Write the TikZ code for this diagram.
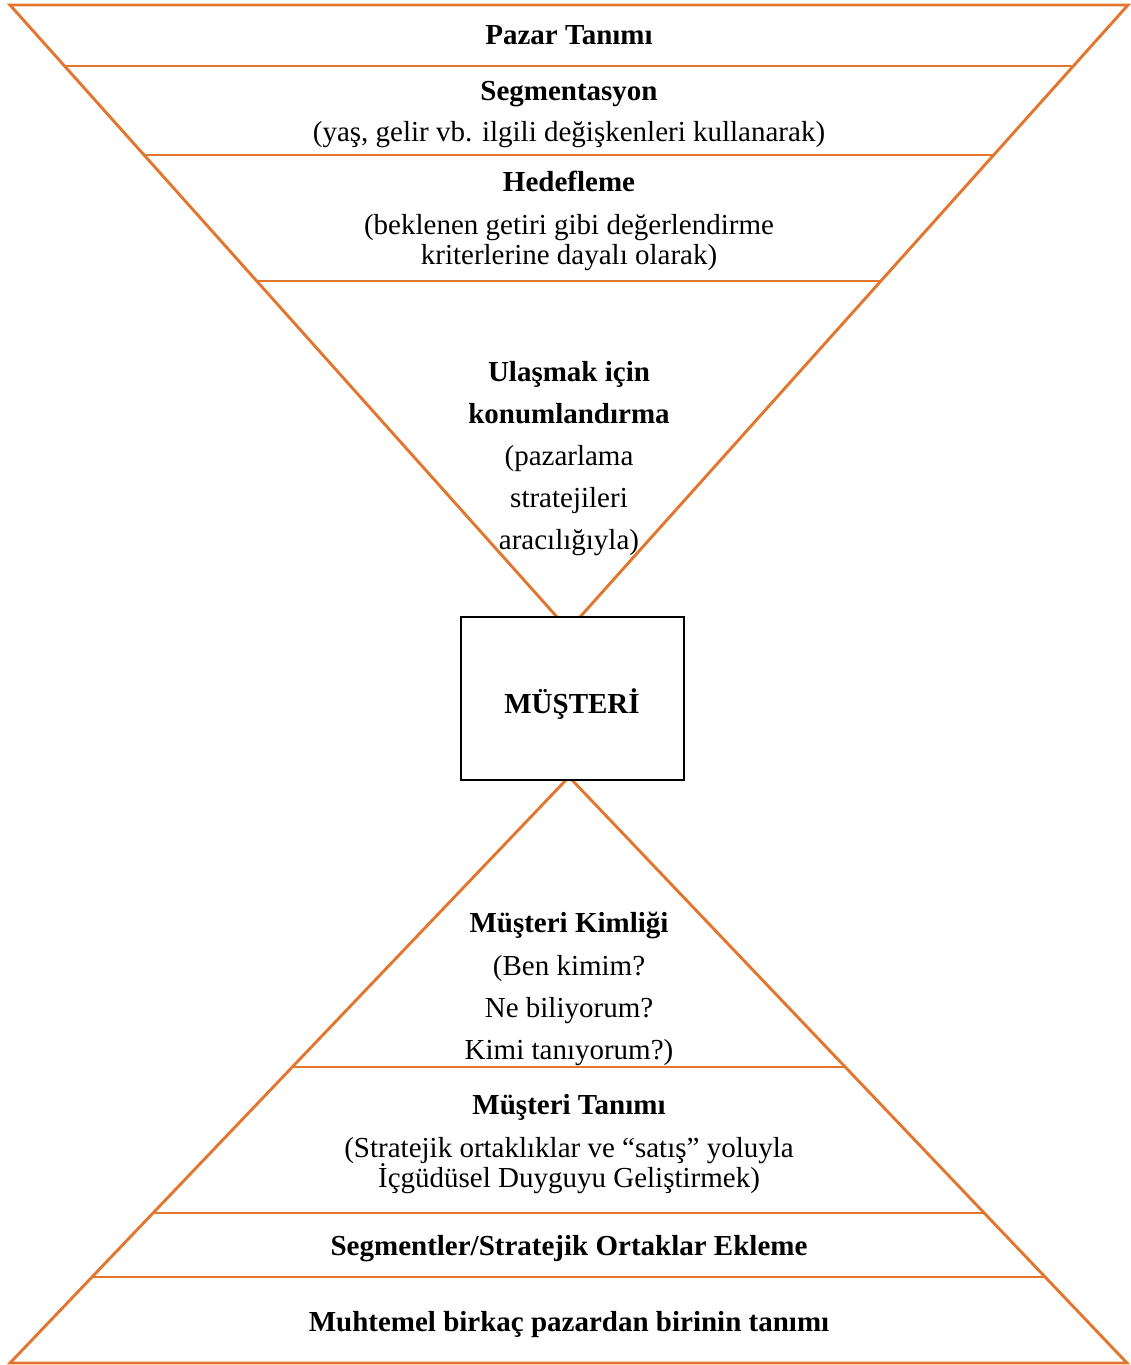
\documentclass[tikz,border=0pt]{standalone}
\usepackage{fontspec}
\setmainfont{Liberation Serif}
\usetikzlibrary{calc}
\definecolor{orng}{RGB}{226,118,46}
\begin{document}
\begin{tikzpicture}[x=1pt,y=-1pt,
  oline/.style={draw=orng,line width=2.9pt},
  lbl/.style={anchor=base,inner sep=0pt,font=\fontsize{29}{31}\selectfont},
  blbl/.style={lbl,font=\fontsize{29}{31}\selectfont\bfseries}]
\useasboundingbox (0,0) rectangle (1131,1365);
% top funnel corners
\coordinate (TL) at (10,5);
\coordinate (TR) at (1128,5);
\coordinate (TLa) at (557,617);
\coordinate (TRa) at (580,617);
% bottom funnel corners
\coordinate (BLa) at (566,780);
\coordinate (BRa) at (572,780);
\coordinate (BL) at (10,1363);
\coordinate (BR) at (1127,1363);
% top funnel
\draw[oline,line join=miter] (TLa) -- (TL) -- (TR) -- (TRa);
\draw[oline] ($(TL)!0.0997!(TLa)$) -- ($(TR)!0.0997!(TRa)$);
\draw[oline] ($(TL)!0.2451!(TLa)$) -- ($(TR)!0.2451!(TRa)$);
\draw[oline] ($(TL)!0.4510!(TLa)$) -- ($(TR)!0.4510!(TRa)$);
% bottom pyramid
\draw[oline,line join=miter] (BLa) -- (BL) -- (BR) -- (BRa);
\draw[oline] ($(BLa)!0.4923!(BL)$) -- ($(BRa)!0.4923!(BR)$);
\draw[oline] ($(BLa)!0.7427!(BL)$) -- ($(BRa)!0.7427!(BR)$);
\draw[oline] ($(BLa)!0.8525!(BL)$) -- ($(BRa)!0.8525!(BR)$);
% centre box
\node[draw=black,line width=2pt,fill=white,minimum width=223pt,minimum height=163pt,inner sep=0pt] (box) at (572.5,698.5) {};
\node[blbl] (boxlbl) at (572,713) {MÜŞTERİ};
% top texts
\node[blbl] (t1) at (569,44) {Pazar Tanımı};
\node[blbl] (t2) at (569,100) {Segmentasyon};
\node[lbl] (t3) at (569,141) {(yaş, gelir vb. ilgili değişkenleri kullanarak)};
\node[blbl] (t4) at (569,191) {Hedefleme};
\node[lbl] (t5) at (569,234) {(beklenen getiri gibi değerlendirme};
\node[lbl] (t6) at (569,264) {kriterlerine dayalı olarak)};
\node[blbl] (t7) at (569,381) {Ulaşmak için};
\node[blbl] (t8) at (569,423) {konumlandırma};
\node[lbl] (t9) at (569,465) {(pazarlama};
\node[lbl] (t10) at (569,507) {stratejileri};
\node[lbl] (t11) at (569,549) {aracılığıyla)};
% bottom texts
\node[blbl] (b1) at (569,932) {Müşteri Kimliği};
\node[lbl] (b2) at (569,975) {(Ben kimim?};
\node[lbl] (b3) at (569,1017) {Ne biliyorum?};
\node[lbl] (b4) at (569,1059) {Kimi tanıyorum?)};
\node[blbl] (b5) at (569,1114) {Müşteri Tanımı};
\node[lbl] (b6) at (569,1157) {(Stratejik ortaklıklar ve “satış” yoluyla};
\node[lbl] (b7) at (569,1187) {İçgüdüsel Duyguyu Geliştirmek)};
\node[blbl] (b8) at (569,1255) {Segmentler/Stratejik Ortaklar Ekleme};
\node[blbl] (b9) at (569,1331) {Muhtemel birkaç pazardan birinin tanımı};
\end{tikzpicture}
\end{document}
